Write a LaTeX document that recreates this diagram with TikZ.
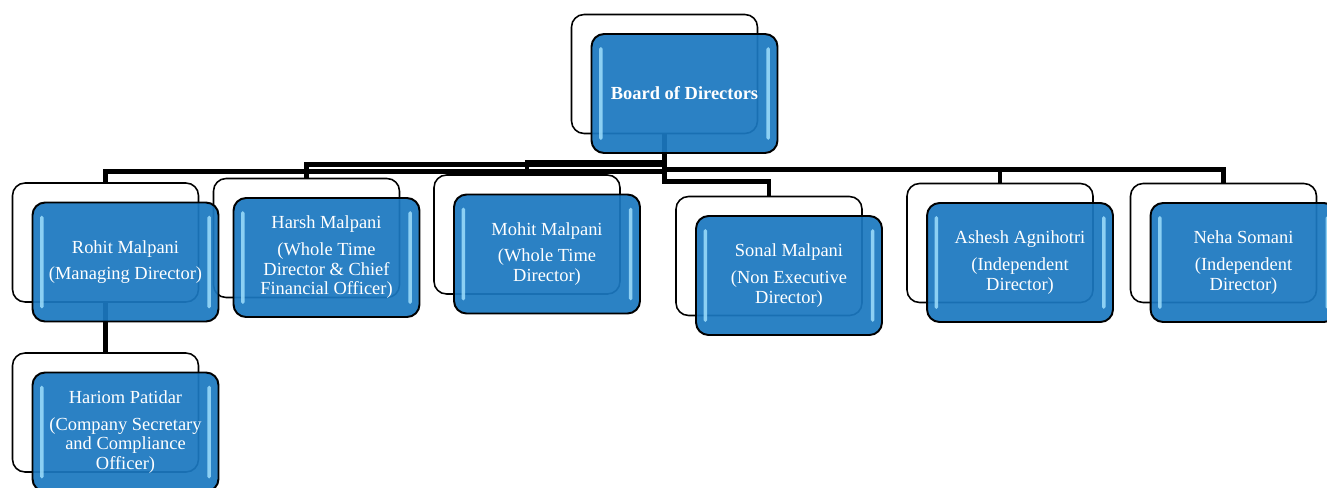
\documentclass[tikz,border=0pt]{standalone}
\usepackage{fontspec}
\setmainfont{Liberation Serif}
\usetikzlibrary{positioning, calc}
\definecolor{boxblue}{RGB}{27,120,192}
\definecolor{glossblue}{RGB}{165,228,255}

\begin{document}
\begin{tikzpicture}[x=0.02cm, y=-0.02cm]
    \tikzstyle{back}=[draw, rectangle, rounded corners=0.25cm, fill=white, line width=0.9pt, minimum width=3.72cm, minimum height=2.38cm];
    \tikzstyle{member}=[draw, rectangle, rounded corners=0.25cm, fill=boxblue, fill opacity=0.93, text opacity=1, line width=1.1pt, minimum width=3.72cm, minimum height=2.38cm, text=white, align=center, font=\fontsize{10.5}{11.2}\selectfont, shift={(20,19.5)},
      path picture={
        \fill[glossblue, fill opacity=0.8, rounded corners=1pt] ([shift={(0.15cm,-0.26cm)}]path picture bounding box.north west) rectangle ([shift={(0.22cm,0.26cm)}]path picture bounding box.south west);
        \fill[glossblue, fill opacity=0.8, rounded corners=1pt] ([shift={(-0.15cm,-0.26cm)}]path picture bounding box.north east) rectangle ([shift={(-0.22cm,0.26cm)}]path picture bounding box.south east);
      }];
    \tikzstyle{link}=[line width=2.6pt];
    \useasboundingbox (0,0) rectangle (1327,487);

    \node[back] (boardback) at (664.5,74) {};
    \node[back] (rohitback) at (105.5,242.5) {};
    \node[back] (harshback) at (306.5,238) {};
    \node[back] (mohitback) at (527,234.5) {};
    \node[back] (sonalback) at (769,256) {};
    \node[back] (asheshback) at (1000,243) {};
    \node[back] (nehaback) at (1223.5,243) {};
    \node[back] (hariomback) at (105.5,412.5) {};

    \draw[link] (boardback.south) -- ++(0,37) -| (rohitback.north);
    \draw[link] (boardback.south) -- ++(0,30.5) -| (harshback.north);
    \draw[link] (boardback.south) -- ++(0,28) -| (mohitback.north);
    \draw[link] (boardback.south) -- ++(0,47.5) -| (sonalback.north);
    \draw[link] (boardback.south) -- ++(0,35) -| (asheshback.north);
    \draw[link] (boardback.south) -- ++(0,35) -| (nehaback.north);
    \draw[link] (rohitback.south) -- (hariomback.north);

    \node[member, font=\fontsize{10.5}{11.2}\selectfont\bfseries] (board) at (boardback.center) {Board of Directors};
    \node[member] (rohit) at (rohitback.center) {Rohit Malpani\\[4pt](Managing Director)};
    \node[member] (harsh) at (harshback.center) {Harsh Malpani\\[4pt](Whole Time\\Director \& Chief\\Financial Officer)};
    \node[member] (mohit) at (mohitback.center) {Mohit Malpani\\[4pt](Whole Time\\Director)};
    \node[member] (sonal) at (sonalback.center) {Sonal Malpani\\[4pt](Non Executive\\Director)};
    \node[member] (ashesh) at (asheshback.center) {Ashesh Agnihotri\\[4pt](Independent\\Director)};
    \node[member] (neha) at (nehaback.center) {Neha Somani\\[4pt](Independent\\Director)};
    \node[member] (hariom) at (hariomback.center) {Hariom Patidar\\[4pt](Company Secretary\\and Compliance\\Officer)};
\end{tikzpicture}
\end{document}
